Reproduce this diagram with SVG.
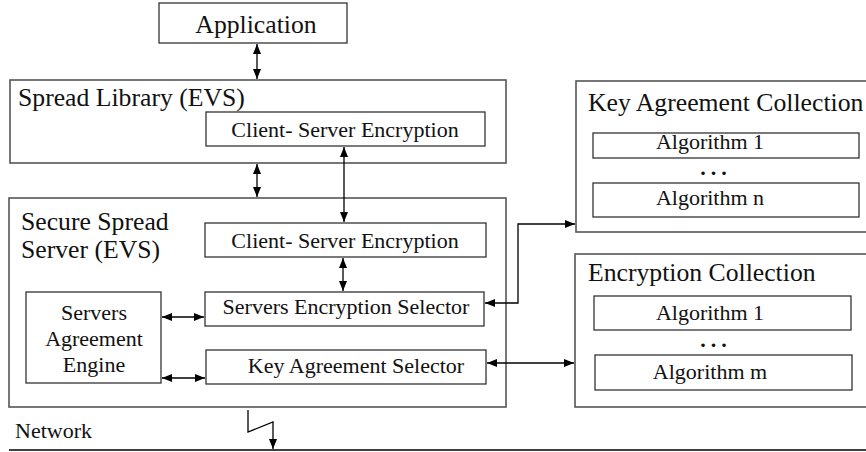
<svg xmlns="http://www.w3.org/2000/svg" width="866" height="452" viewBox="0 0 866 452">
<defs>
<marker id="ah" viewBox="0 0 10 8" refX="10" refY="4" markerWidth="10" markerHeight="8" markerUnits="userSpaceOnUse" orient="auto-start-reverse">
<path d="M0,0 L10,4 L0,8 z" fill="#000"/>
</marker>
</defs>
<style>
.outer{fill:#fff;stroke:#555;stroke-width:1.6}
.inner{fill:#fff;stroke:#333;stroke-width:1.3}
.t{font-family:"Liberation Serif","Times New Roman",serif;fill:#111}
.big{font-size:25.7px}
.mid{font-size:22px}
.c{text-anchor:middle}
.ln{fill:none;stroke:#000;stroke-width:1.3}
.both{marker-start:url(#ah);marker-end:url(#ah)}
.end{marker-end:url(#ah)}
</style>
<rect width="866" height="452" fill="#fff"/>

<g id="application">
<rect class="inner" x="159" y="3" width="188" height="40"/>
<text class="t big c" x="256" y="33">Application</text>
</g>

<g id="spread-library">
<rect class="outer" x="10" y="80" width="496" height="83"/>
<text class="t big" x="18" y="106">Spread Library (EVS)</text>
</g>
<g id="lib-cse">
<rect class="inner" x="206" y="112" width="279" height="34"/>
<text class="t mid c" x="345" y="137">Client- Server Encryption</text>
</g>

<g id="secure-spread-server">
<rect class="outer" x="9" y="198" width="497" height="209"/>
<text class="t big" x="21" y="230">Secure Spread</text>
<text class="t big" x="21" y="258">Server (EVS)</text>
</g>
<g id="srv-cse">
<rect class="inner" x="205" y="223" width="281" height="34"/>
<text class="t mid c" x="345" y="248">Client- Server Encryption</text>
</g>
<g id="servers-encryption-selector">
<rect class="inner" x="205" y="292" width="279" height="34"/>
<text class="t mid c" x="346" y="314">Servers Encryption Selector</text>
</g>
<g id="key-agreement-selector">
<rect class="inner" x="206" y="350" width="280" height="34"/>
<text class="t mid c" x="356" y="373">Key Agreement Selector</text>
</g>
<g id="servers-agreement-engine">
<rect class="inner" x="26" y="292" width="135" height="91"/>
<text class="t mid c" x="94" y="320">Servers</text>
<text class="t mid c" x="94" y="346">Agreement</text>
<text class="t mid c" x="94" y="372">Engine</text>
</g>

<g id="key-agreement-collection">
<rect class="outer" x="576" y="81" width="300" height="151"/>
<text class="t big" x="588" y="111">Key Agreement Collection</text>
</g>
<g id="kac-alg1">
<rect class="inner" x="593" y="133" width="266" height="25"/>
<text class="t mid c" x="710" y="149">Algorithm 1</text>
</g>
<text class="t mid c" x="716" y="175" font-weight="bold" letter-spacing="5">...</text>
<g id="kac-algn">
<rect class="inner" x="593" y="183" width="266" height="34"/>
<text class="t mid c" x="710" y="205">Algorithm n</text>
</g>

<g id="encryption-collection">
<rect class="outer" x="575" y="254" width="300" height="153"/>
<text class="t big" x="588" y="281">Encryption Collection</text>
</g>
<g id="ec-alg1">
<rect class="inner" x="594" y="296" width="257" height="34"/>
<text class="t mid c" x="710" y="320">Algorithm 1</text>
</g>
<text class="t mid c" x="716" y="347" font-weight="bold" letter-spacing="5">...</text>
<g id="ec-algm">
<rect class="inner" x="595" y="355" width="257" height="35"/>
<text class="t mid c" x="710" y="379">Algorithm m</text>
</g>

<g id="network">
<text class="t mid" x="15" y="438">Network</text>
<line x1="9" y1="450" x2="866" y2="450" stroke="#000" stroke-width="1.6"/>
</g>

<g id="connectors">
<line class="ln both" x1="257" y1="44" x2="257" y2="79"/>
<line class="ln both" x1="257" y1="164" x2="257" y2="197"/>
<line class="ln both" x1="344" y1="147" x2="344" y2="222"/>
<line class="ln both" x1="343" y1="258" x2="343" y2="291"/>
<line class="ln both" x1="162" y1="317" x2="204" y2="317"/>
<line class="ln both" x1="162" y1="378" x2="205" y2="378"/>
<polyline class="ln both" points="485,303 518,303 518,224 575,224"/>
<line class="ln both" x1="487" y1="363" x2="574" y2="363"/>
<polyline class="ln end" points="248,410 248,432 273,422 273,449"/>
</g>
</svg>
